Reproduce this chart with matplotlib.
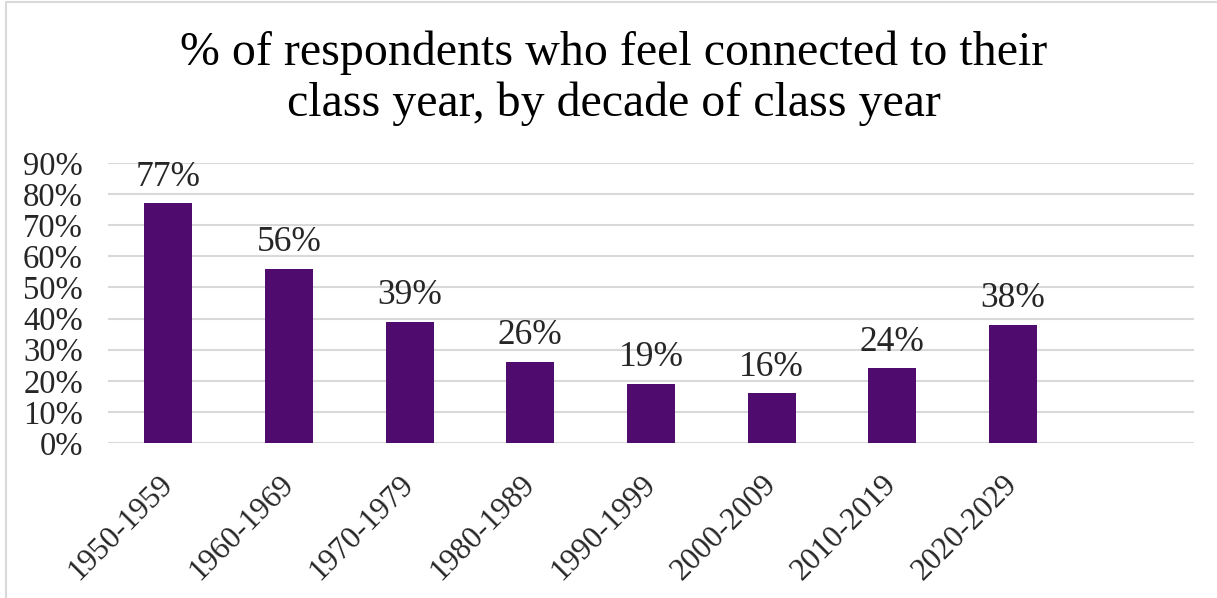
import matplotlib
matplotlib.use('Agg')
import matplotlib.pyplot as plt
from matplotlib.patches import Rectangle

plt.rcParams['font.family'] = ['Liberation Serif', 'DejaVu Serif']

decades = ['1950-1959', '1960-1969', '1970-1979', '1980-1989',
           '1990-1999', '2000-2009', '2010-2019', '2020-2029']
connected = [77, 56, 39, 26, 19, 16, 24, 38]
yticks = [0, 10, 20, 30, 40, 50, 60, 70, 80, 90]

purple = '#4F0B6E'
grid_col = '#D9D9D9'
txt_col = '#262626'

fig = plt.figure(figsize=(12.17, 5.98), dpi=100)
ax = fig.add_axes([108 / 1217, 1 - 443 / 598, (1194 - 108) / 1217, (443 - 163) / 598])

x = list(range(len(decades)))
bars = ax.bar(x, connected, width=0.4, color=purple, zorder=3)

for xi, v in zip(x, connected):
    ax.annotate(f'{v}%', (xi, v), xytext=(0, 7), textcoords='offset points',
                ha='center', va='bottom', fontsize=25.5, color=txt_col)

# one empty slot on the right, like the source spreadsheet range
ax.set_xlim(-0.5, len(decades) + 0.5)
ax.set_ylim(0, 90)
ax.set_yticks(yticks)
ax.set_yticklabels([f'{t}%' for t in yticks], fontsize=23.5, color=txt_col)
ax.set_xticks(x)
ax.set_xticklabels(decades, rotation=45, ha='right', va='center',
                   rotation_mode='anchor', fontsize=22.5, color=txt_col)
ax.tick_params(axis='both', length=0)
ax.tick_params(axis='y', pad=18)
ax.tick_params(axis='x', pad=27)

ax.grid(axis='y', color=grid_col, linewidth=1.5, zorder=0)
for s in ax.spines.values():
    s.set_visible(False)

fig.text(614 / 1217, 1 - 78 / 598,
         '% of respondents who feel connected to their\nclass year, by decade of class year',
         ha='center', va='center', fontsize=34.5, color='black', linespacing=1.2)

# chart area outline
fig.patches.append(Rectangle((6 / 1217, -0.1), 1.2, 0.1 + 1 - 2 / 598,
                             transform=fig.transFigure, fill=False,
                             edgecolor=grid_col, linewidth=1.5))

fig.savefig('out.png', dpi=100)
